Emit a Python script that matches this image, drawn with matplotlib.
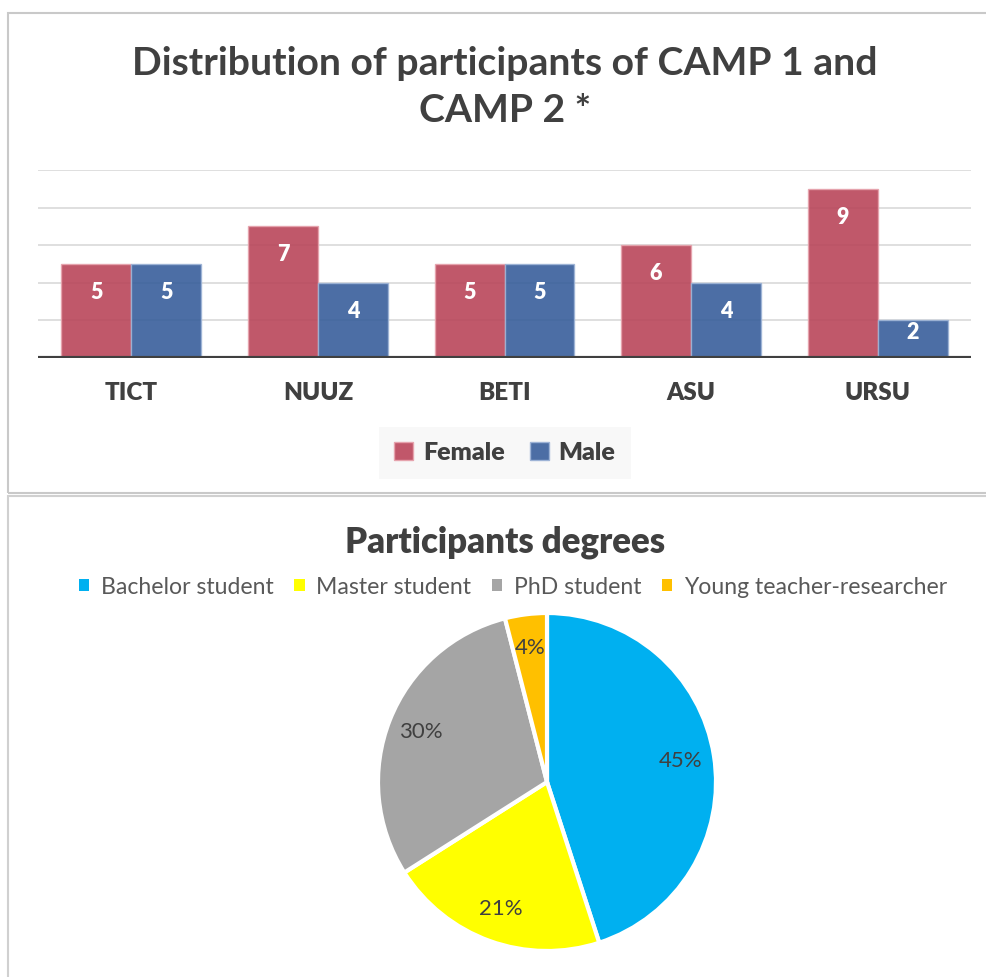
import matplotlib
matplotlib.use('Agg')
import matplotlib.pyplot as plt
from matplotlib.patches import Rectangle, Patch

plt.rcParams['font.family'] = ['Lato', 'DejaVu Sans']

# data
universities = ['TICT', 'NUUZ', 'BETI', 'ASU', 'URSU']
female = [5, 7, 5, 6, 9]
male = [5, 4, 5, 4, 2]

degrees = ['Bachelor student', 'Master student', 'PhD student', 'Young teacher-researcher']
degree_share = [45, 21, 30, 4]
degree_colors = ['#00B0F0', '#FFFF00', '#A5A5A5', '#FFC000']

W, H = 987, 977
fig = plt.figure(figsize=(W / 100, H / 100), dpi=100)
fig.patch.set_facecolor('white')

def fx(px):
    return px / W

def fy(py):
    return 1 - py / H

# chart frames
fig.add_artist(Rectangle((fx(8), fy(493)), fx(1000 - 8), (493 - 13) / H, transform=fig.transFigure,
                         fill=False, edgecolor='#c9c9c9', linewidth=1.5))
fig.add_artist(Rectangle((fx(8), fy(1000)), fx(1000 - 8), (1000 - 496) / H, transform=fig.transFigure,
                         fill=False, edgecolor='#d0d0d0', linewidth=1.5))

txt = '#404040'

# ---- bar chart ----
fig.text(fx(505), fy(87), 'Distribution of participants of CAMP 1 and\nCAMP 2 *', ha='center', va='center',
         fontsize=28.2, fontweight='bold', color=txt, linespacing=1.38)

ax = fig.add_axes([fx(38), fy(358), fx(971 - 38), (358 - 170) / H])
x = list(range(len(universities)))
bw = 0.375
for g in [2, 4, 6, 8, 10]:
    ax.axhline(g, color='#d9d9d9', linewidth=1.2, zorder=0)
b1 = ax.bar([i - bw / 2 for i in x], female, width=bw, color='#b9465a', alpha=0.9,
            edgecolor='#e6a3ad', linewidth=1, zorder=2, label='Female')
b2 = ax.bar([i + bw / 2 for i in x], male, width=bw, color='#385e9b', alpha=0.9,
            edgecolor='#9db3d6', linewidth=1, zorder=2, label='Male')
ax.axhline(0, color='#404040', linewidth=3, zorder=3)
for bars, vals in [(b1, female), (b2, male)]:
    for rect, v in zip(bars, vals):
        ly = v - 1.5 if v > 3 else v * 0.67
        ax.text(rect.get_x() + rect.get_width() / 2, ly, str(v), ha='center', va='center',
                color='white', fontsize=15.5, fontweight='heavy', zorder=4)
ax.set_xlim(-0.5, 4.5)
ax.set_ylim(0, 10)
ax.set_yticks([])
ax.set_xticks(x)
ax.set_xticklabels(universities, fontsize=17.5, fontweight='heavy', color=txt)
ax.tick_params(axis='x', length=0, pad=17)
for s in ax.spines.values():
    s.set_visible(False)
ax.patch.set_alpha(0)

leg = fig.legend(handles=[Patch(facecolor='#c1576a', edgecolor='#e6a3ad'),
                          Patch(facecolor='#4c6ea5', edgecolor='#9db3d6')],
                 labels=['Female', 'Male'], loc='center', bbox_to_anchor=(fx(505), fy(453)),
                 ncol=2, frameon=True, fancybox=False, prop={'size': 18, 'weight': 'heavy'},
                 handlelength=0.75, handleheight=0.75, handletextpad=0.4, columnspacing=1.0,
                 borderpad=0.6)
leg.get_frame().set_facecolor('#f7f7f7')
leg.get_frame().set_edgecolor('none')
for t in leg.get_texts():
    t.set_color(txt)

# ---- pie chart ----
fig.text(fx(505), fy(542), 'Participants degrees', ha='center', va='center',
         fontsize=25, fontweight='heavy', color=txt)

R = 169
pax = fig.add_axes([fx(547 - R), fy(782 + R), 2 * R / W, 2 * R / H])
wedges, texts, autotexts = pax.pie(degree_share, colors=degree_colors, startangle=90, counterclock=False,
                                    autopct='%d%%', pctdistance=0.8,
                                    wedgeprops={'edgecolor': 'white', 'linewidth': 3},
                                    textprops={'fontsize': 16, 'color': txt})
pax.set_xlim(-1, 1)
pax.set_ylim(-1, 1)

leg2 = fig.legend(handles=[Patch(facecolor=c) for c in degree_colors], labels=degrees,
                  loc='center', bbox_to_anchor=(fx(513), fy(587)), ncol=4, frameon=False,
                  prop={'size': 16.6}, handlelength=0.45, handleheight=0.45, handletextpad=0.5,
                  columnspacing=0.9)
for t in leg2.get_texts():
    t.set_color('#595959')

fig.savefig('out.png', dpi=100)
